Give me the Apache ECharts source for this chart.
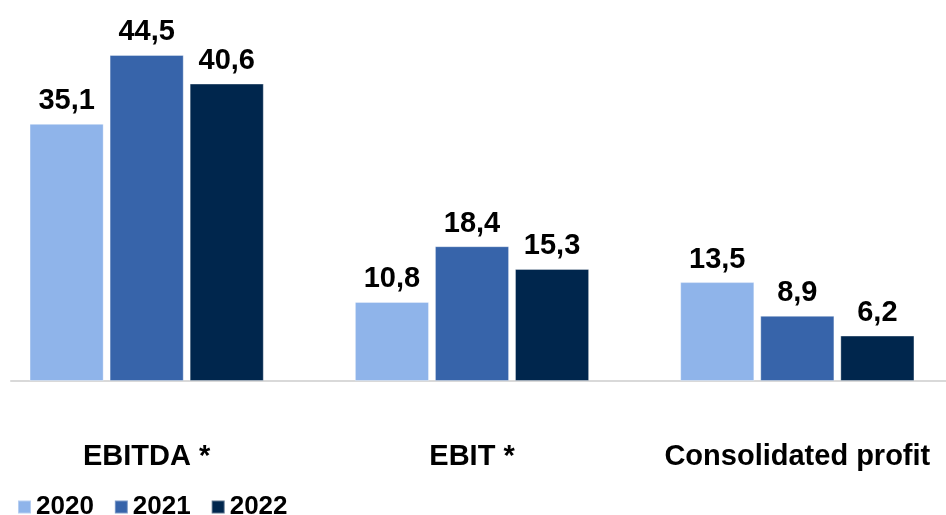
<!DOCTYPE html>
<html>
<head>
<meta charset="utf-8">
<title>EBITDA, EBIT and consolidated profit</title>
<script src="https://cdn.jsdelivr.net/npm/echarts@6/dist/echarts.min.js"></script>
<style>
  html, body { margin: 0; padding: 0; background: #ffffff; overflow: hidden; width: 946px; height: 515px; }
  /* the plot is a little wider than the page so the outer groups sit close to the edges */
  #chart { width: 976px; height: 515px; margin-left: -16px; }
</style>
</head>
<body>
<div id="chart"></div>
<script>
// Key figures by year
const categories = ['EBITDA *', 'EBIT *', 'Consolidated profit'];
const years = ['2020', '2021', '2022'];
const values2020 = [35.1, 10.8, 13.5];
const values2021 = [44.5, 18.4, 8.9];
const values2022 = [40.6, 15.3, 6.2];

const colors = ['#8FB4EA', '#3764AA', '#00264D'];
const fontFamily = '"Liberation Sans", Arial, sans-serif';

const seriesValues = [values2020, values2021, values2022];

const chart = echarts.init(document.getElementById('chart'), null, { renderer: 'canvas' });

chart.setOption({
  animation: false,
  color: colors,
  textStyle: { fontFamily: fontFamily },
  legend: {
    data: years,
    left: 28,
    top: 489,
    icon: 'rect',
    itemWidth: 13,
    itemHeight: 13,
    itemGap: 20,
    textStyle: { fontSize: 26, fontWeight: 'bold', color: '#000', fontFamily: fontFamily }
  },
  grid: [
    { left: 0, right: 0, top: 14.7, bottom: 134, containLabel: false },
    { left: 27, right: 14, top: 14.7, bottom: 134, containLabel: false }
  ],
  xAxis: [
    {
      type: 'category',
      gridIndex: 0,
      data: categories,
      axisLine: { show: false },
      axisTick: { show: false },
      axisLabel: {
        interval: 0,
        margin: 61,
        fontSize: 29,
        fontWeight: 'bold',
        color: '#000',
        fontFamily: fontFamily
      }
    },
    {
      // baseline under the bars
      type: 'category',
      gridIndex: 1,
      data: [''],
      axisLine: { show: true, lineStyle: { color: '#D9D9D9', width: 2 } },
      axisTick: { show: false },
      axisLabel: { show: false }
    }
  ],
  yAxis: [
    {
      type: 'value',
      gridIndex: 0,
      min: 0,
      max: 50,
      show: false,
      splitLine: { show: false }
    },
    {
      type: 'value',
      gridIndex: 1,
      min: 0,
      max: 50,
      show: false,
      splitLine: { show: false }
    }
  ],
  series: years.map((year, i) => ({
    name: year,
    type: 'bar',
    xAxisIndex: 0,
    yAxisIndex: 0,
    data: seriesValues[i],
    barGap: '8%',
    barCategoryGap: '28%',
    itemStyle: { color: colors[i], borderColor: 'rgba(255,255,255,0.35)', borderWidth: 1 },
    label: {
      show: true,
      position: 'top',
      distance: 8,
      fontSize: 29,
      fontWeight: 'bold',
      color: '#000',
      fontFamily: fontFamily,
      formatter: (p) => p.value.toFixed(1).replace('.', ',')
    }
  }))
});
</script>
</body>
</html>
